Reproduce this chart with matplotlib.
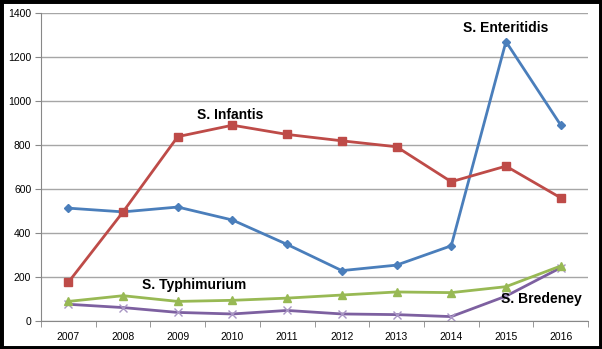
import matplotlib.pyplot as plt
import numpy as np

plt.rcParams['font.family'] = ['Liberation Sans', 'DejaVu Sans']

years = ['2007', '2008', '2009', '2010', '2011', '2012', '2013', '2014', '2015', '2016']
enteritidis = [513, 496, 518, 459, 348, 229, 254, 342, 1270, 891]
infantis = [176, 496, 838, 890, 848, 819, 792, 633, 704, 560]
typhimurium = [89, 115, 89, 94, 104, 118, 132, 129, 156, 250]
bredeney = [76, 61, 39, 32, 48, 32, 29, 20, 113, 242]

fig = plt.figure(figsize=(6.02, 3.49), dpi=100)
ax = fig.add_axes([41 / 602, 28 / 349, 547 / 602, 308 / 349])

x = np.arange(len(years))
ax.plot(x, enteritidis, color='#4A7EBB', lw=2, marker='D', ms=4.5, zorder=3)
ax.plot(x, infantis, color='#BE4B48', lw=2, marker='s', ms=6, zorder=3)
ax.plot(x, typhimurium, color='#98B954', lw=2, marker='^', ms=6, zorder=3)
ax.plot(x, bredeney, color='#7D60A0', lw=2, marker='x', ms=6, mew=1, mec='#A996C4', zorder=2)

ax.set_xlim(-0.5, 9.5)
ax.set_ylim(0, 1400)
ax.set_yticks(range(0, 1401, 200))
ax.set_xticks(x)
ax.set_xticklabels(years)
ax.set_xticks(np.arange(-0.5, 10, 1), minor=True)
ax.tick_params(axis='x', which='major', length=0, pad=8, labelsize=7.5)
ax.tick_params(axis='x', which='minor', length=4, color='#888888')
ax.tick_params(axis='y', length=4, color='#888888', labelsize=7.5, pad=3)
ax.grid(axis='y', color='#A6A6A6', lw=1)
ax.set_axisbelow(True)
for s in ['top', 'right']:
    ax.spines[s].set_visible(False)
for s in ['left', 'bottom']:
    ax.spines[s].set_color('#888888')

lab = dict(fontsize=10, fontweight='bold', ha='center', va='center')
ax.text(8.0, 1330, 'S. Enteritidis', **lab)
ax.text(2.95, 935, 'S. Infantis', **lab)
ax.text(2.3, 165, 'S. Typhimurium', **lab)
ax.text(8.65, 100, 'S. Bredeney', **lab)

# black frame around the whole figure
fig.patches.append(plt.Rectangle((0, 0), 1, 1, transform=fig.transFigure,
                                 fill=False, ec='black', lw=5))

fig.savefig('out.png', dpi=100)
